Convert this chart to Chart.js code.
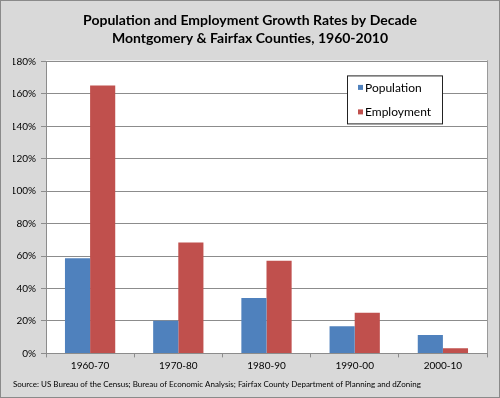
<!DOCTYPE html>
<html>
<head>
<meta charset="utf-8">
<script src="https://cdn.jsdelivr.net/npm/chart.js@4"></script>
<style>
  html, body { margin: 0; padding: 0; background: #d9d9d9; }
  #wrap { width: 500px; height: 398px; }
</style>
</head>
<body>
<div id="wrap"><canvas id="growthChart" width="500" height="398"></canvas></div>
<script>
// --- data ---
const decades = ["1960-70", "1970-80", "1980-90", "1990-00", "2000-10"];
const populationGrowth = [58.6, 20.2, 34.1, 16.8, 11.4];
const employmentGrowth = [165.2, 68.4, 57.1, 25.1, 3.1];
const yTicks = [0, 20, 40, 60, 80, 100, 120, 140, 160, 180];

const titleLines = [
  "Population and Employment Growth Rates by Decade",
  "Montgomery & Fairfax Counties, 1960-2010",
];
const sourceNote =
  "Source: US Bureau of the Census; Bureau of Economic Analysis; Fairfax County Department of Planning and dZoning";

const FONT = "Lato, 'Liberation Sans', sans-serif";
const gridGray = "#8c8c8c";

// background, white plot area, outer frame
const frame = {
  id: "frame",
  beforeDraw(chart) {
    const { ctx, chartArea: a } = chart;
    ctx.save();
    ctx.fillStyle = "#d9d9d9";
    ctx.fillRect(0, 0, chart.width, chart.height);
    ctx.fillStyle = "#ffffff";
    ctx.fillRect(a.left, a.top - 1, a.right - a.left, a.bottom - a.top + 1);
    ctx.strokeStyle = "#9a9a9a";
    ctx.lineWidth = 1;
    ctx.beginPath();
    ctx.moveTo(a.right + 0.5, a.top - 1);
    ctx.lineTo(a.right + 0.5, a.bottom);
    ctx.stroke();
    ctx.strokeStyle = "#8a8a8a";
    ctx.strokeRect(0.5, 0.5, chart.width - 1, chart.height - 1);
    ctx.restore();
  },
};

// legend box sitting inside the plot, top right
const boxLegend = {
  id: "boxLegend",
  afterDraw(chart) {
    const { ctx, chartArea: a } = chart;
    const w = 95, h = 48;
    const x = a.right - 45 - w, y = a.top + 14;
    ctx.save();
    ctx.fillStyle = "#ffffff";
    ctx.fillRect(x, y, w, h);
    ctx.strokeStyle = "#222222";
    ctx.lineWidth = 1;
    ctx.strokeRect(x + 0.5, y + 0.5, w, h);
    ctx.font = "12px " + FONT;
    ctx.textBaseline = "middle";
    chart.data.datasets.forEach((ds, i) => {
      const cy = y + 12.5 + i * 24.5;
      ctx.fillStyle = ds.backgroundColor;
      ctx.fillRect(x + 11, cy - 3, 5, 5);
      ctx.fillStyle = "#000000";
      ctx.fillText(ds.label, x + 18, cy);
    });
    ctx.restore();
  },
};

new Chart(document.getElementById("growthChart"), {
  type: "bar",
  data: {
    labels: decades,
    datasets: [
      {
        label: "Population",
        data: populationGrowth,
        backgroundColor: "#4f81bd",
        borderWidth: 0,
        categoryPercentage: 0.57,
        barPercentage: 1.0,
      },
      {
        label: "Employment",
        data: employmentGrowth,
        backgroundColor: "#c0504d",
        borderWidth: 0,
        categoryPercentage: 0.57,
        barPercentage: 1.0,
      },
    ],
  },
  options: {
    responsive: false,
    animation: false,
    layout: { padding: { left: 13, right: 13, top: 2, bottom: 5 } },
    plugins: {
      legend: { display: false },
      tooltip: { enabled: false },
      title: {
        display: true,
        text: titleLines,
        color: "#000000",
        font: { family: FONT, size: 14, weight: "bold", lineHeight: 1.3 },
        padding: { top: 9, bottom: 14 },
      },
      subtitle: {
        display: true,
        position: "bottom",
        align: "start",
        text: sourceNote,
        color: "#000000",
        font: { family: FONT, size: 8, lineHeight: 1.2 },
        padding: { top: 4, bottom: 4 },
      },
    },
    scales: {
      x: {
        grid: {
          display: true,
          drawOnChartArea: false,
          drawTicks: true,
          tickLength: 4,
          color: gridGray,
          offset: true,
        },
        border: { color: gridGray },
        ticks: {
          color: "#000000",
          font: { family: FONT, size: 10 },
          padding: 2,
        },
        afterFit(scale) {
          scale.height = 22;
        },
      },
      y: {
        min: 0,
        max: 180,
        afterBuildTicks(scale) {
          scale.ticks = yTicks.map((v) => ({ value: v }));
        },
        grid: { color: gridGray, tickLength: 5 },
        border: { color: gridGray },
        ticks: {
          color: "#000000",
          font: { family: FONT, size: 10 },
          padding: 5,
          callback: (v) => v + "%",
        },
        afterFit(scale) {
          scale.width = 33;
        },
      },
    },
  },
  plugins: [frame, boxLegend],
});
</script>
</body>
</html>
